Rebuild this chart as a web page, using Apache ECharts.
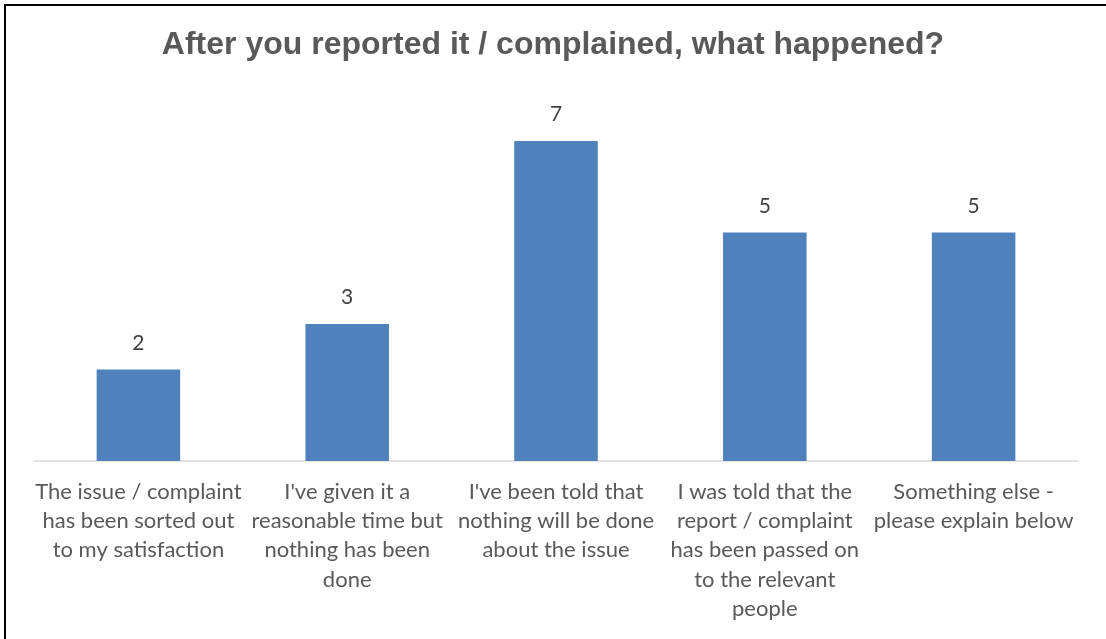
<!DOCTYPE html>
<html>
<head>
<meta charset="utf-8">
<script src="https://cdn.jsdelivr.net/npm/echarts@6/dist/echarts.min.js"></script>
<style>
  html, body { margin: 0; padding: 0; background: #fff; }
  #chart { width: 1106px; height: 639px; }
</style>
</head>
<body>
<div id="chart"></div>
<script>
// Survey responses: outcome after reporting / complaining
const titleText = 'After you reported it / complained, what happened?';
const categories = [
  'The issue / complaint\nhas been sorted out\nto my satisfaction',
  "I've given it a\nreasonable time but\nnothing has been\ndone",
  "I've been told that\nnothing will be done\nabout the issue",
  'I was told that the\nreport / complaint\nhas been passed on\nto the relevant\npeople',
  'Something else -\nplease explain below'
];
const counts = [2, 3, 7, 5, 5];

const chart = echarts.init(document.getElementById('chart'), null, { renderer: 'canvas' });

chart.setOption({
  backgroundColor: '#ffffff',
  animation: false,
  title: {
    text: titleText,
    left: 'center',
    top: 24,
    textStyle: {
      fontFamily: 'Liberation Sans, Arial, sans-serif',
      fontSize: 32,
      fontWeight: 'bold',
      color: '#595959'
    }
  },
  graphic: [{
    type: 'rect',
    shape: { x: 5, y: 5, width: 1120, height: 660 },
    style: { fill: 'none', stroke: '#000000', lineWidth: 2 },
    silent: true
  }],
  grid: { left: 34, right: 28, top: 95.4, bottom: 178, containLabel: false },
  xAxis: {
    type: 'category',
    data: categories,
    axisLine: { show: true, lineStyle: { color: '#d9d9d9', width: 1.5 } },
    axisTick: { show: false },
    axisLabel: {
      interval: 0,
      margin: 16,
      color: '#595959',
      fontFamily: 'Lato, Carlito, Calibri, sans-serif',
      fontSize: 22,
      lineHeight: 29.3
    }
  },
  yAxis: {
    type: 'value',
    min: 0,
    max: 8,
    interval: 1,
    show: false,
    splitLine: { show: false }
  },
  series: [{
    type: 'bar',
    data: counts,
    barCategoryGap: '60%',
    itemStyle: { color: '#4f81bd' },
    label: {
      show: true,
      position: 'top',
      distance: 16,
      color: '#404040',
      fontFamily: 'Lato, Carlito, Calibri, sans-serif',
      fontSize: 21
    }
  }]
});
</script>
</body>
</html>
